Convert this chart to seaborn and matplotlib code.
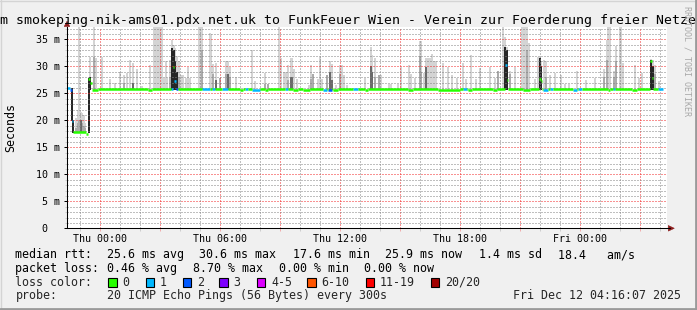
import numpy as np
import pandas as pd
import matplotlib
matplotlib.use("Agg")
import matplotlib.pyplot as plt
from matplotlib.patches import Rectangle, Polygon
from matplotlib.lines import Line2D
import seaborn as sns

# ---------------- data ----------------
title = "m smokeping-nik-ams01.pdx.net.uk to FunkFeuer Wien - Verein zur Foerderung freier Netze"
y_label = "Seconds"
x_label_hours = [0, 6, 12, 18, 24]
x_label_texts = ["Thu 00:00", "Thu 06:00", "Thu 12:00", "Thu 18:00", "Fri 00:00"]
y_ticks = [0, 5, 10, 15, 20, 25, 30, 35]
y_tick_labels = ["0  ", "5 m", "10 m", "15 m", "20 m", "25 m", "30 m", "35 m"]
x_start, x_end = -1.65, 28.35      # hours relative to Thu 00:00
y_max = 37.3                       # ms
step_hours = 1 / 12                # 5 minute steps

# median rtt: baseline plus read-off deviations (start h, end h, ms, lost pings)
median_base = 25.85
data_start, data_end = -1.65, 28.15
med_start = [-1.65, -1.50, -1.40, -1.33, -0.70, -0.58, -0.50, -0.42, 2.40, 3.55, 3.65, 3.70, 3.78,
             5.10, 5.60, 6.10, 7.00, 7.25, 7.60, 8.25, 9.25, 9.65, 10.15, 11.15, 11.40, 11.65, 12.65,
             13.25, 15.40, 16.90, 18.15, 18.40, 19.65, 20.25, 20.33, 21.15, 21.95, 22.03, 22.15, 22.50,
             23.65, 23.90, 25.40, 25.65, 26.60, 27.50, 27.58, 27.90]
med_end = [-1.50, -1.40, -1.33, -0.70, -0.58, -0.50, -0.42, -0.10, 2.60, 3.65, 3.70, 3.78, 3.88,
           5.50, 5.75, 6.40, 7.15, 7.40, 8.00, 8.40, 9.40, 9.90, 10.50, 11.35, 11.60, 11.90, 12.90,
           13.40, 15.65, 18.00, 18.35, 18.60, 19.85, 20.33, 20.40, 21.50, 22.03, 22.10, 22.40, 22.65,
           23.85, 24.10, 25.50, 25.75, 26.85, 27.58, 27.67, 28.15]
med_value = [25.9, 25.7, 19.8, 17.8, 17.5, 27.6, 27.0, 25.6, 25.6, 25.85, 29.9, 27.3, 25.85,
             25.85, 25.85, 25.85, 25.6, 25.85, 25.6, 25.6, 25.85, 25.6, 25.6, 25.6, 25.6, 25.6, 25.85,
             25.6, 25.6, 25.7, 25.85, 25.6, 25.6, 30.2, 27.5, 25.6, 27.7, 27.2, 25.6, 25.85,
             25.6, 25.85, 25.6, 25.85, 25.6, 30.9, 27.8, 25.85]
med_loss = [1, 2, 1, 0, 0, 0, 0, 0, 0, 1, 0, 1, 2,
            1, 1, 1, 0, 1, 1, 0, 1, 0, 0, 1, 2, 0, 1,
            0, 0, 0, 1, 0, 0, 1, 0, 0, 0, 0, 1, 1,
            1, 1, 0, 1, 0, 0, 0, 1]

# smoke during the low-latency period (own bottom values)
low_hour = [-1.40, -1.35, -1.18, -1.10, -1.03, -0.95, -0.88, -0.80, -0.73, -0.56, -0.48]
low_bottom = [19.8, 17.6, 17.6, 17.6, 17.6, 17.6, 17.6, 17.6, 17.6, 17.6, 25.6]
low_top = [26.0, 20.0, 20.5, 21.9, 37.3, 21.5, 21.3, 21.0, 19.5, 27.8, 31.8]
low_core = [26.0, 20.0, 18.5, 19.5, 20.0, 20.0, 19.5, 19.0, 18.5, 27.8, 28.0]
low_shade = [3, 3, 1, 1, 1, 2, 1, 1, 1, 3, 3]

# smoke spikes above the usual floor (shade: 0 none, 1 mid, 2 dark, 3 near black)
smoke_floor = 25.6
N = np.nan
smoke_hour = [-0.28, -0.20, 0.08, 0.50, 0.75, 1.00, 1.18, 1.33, 1.50, 1.65, 1.83, 2.08, 2.50,
              2.68, 2.76, 2.84, 2.93, 3.01, 3.09, 3.20, 3.28, 3.35, 3.50, 3.60, 3.68, 3.77, 3.85,
              3.95, 4.05, 4.15, 4.30, 4.40, 4.50, 4.95, 5.03, 5.12, 5.48, 5.56, 5.65, 5.80, 5.98,
              6.30, 6.40, 6.50, 6.80, 7.60, 7.75, 8.25, 8.40, 8.93, 9.05, 9.20, 9.30, 9.40, 9.53,
              9.61, 9.70, 9.83, 10.45, 10.55, 10.64, 10.90, 11.00, 11.09, 11.35, 11.50, 11.59, 11.80,
              12.00, 12.10, 12.20, 12.35, 13.25, 13.53, 13.61, 13.73, 13.95, 14.05, 14.45, 14.55,
              14.88, 15.05, 15.45, 15.55, 15.75, 15.98, 16.06, 16.18, 16.30, 16.40, 16.50, 16.60,
              16.70, 16.80, 17.15, 17.40, 17.60, 17.85, 18.15, 18.30, 18.55, 18.80, 19.00, 19.50,
              19.75, 19.90, 20.15, 20.27, 20.35, 20.50, 20.75, 21.08, 21.17, 21.25, 21.33, 21.43,
              21.75, 21.90, 21.98, 22.07, 22.18, 22.30, 22.50, 22.75, 23.05, 23.25, 23.45, 23.83,
              24.30, 24.75, 25.18, 25.33, 25.42, 25.50, 25.68, 25.80, 25.98, 26.06, 26.15, 26.75,
              26.93, 27.08, 27.54, 27.63, 27.75, 27.95]
smoke_top = [37.3, 31.5, 31.8, 27.6, 27.0, 29.0, 28.4, 28.7, 31.2, 30.6, 29.5, 26.4, 30.2,
             37.3, 37.3, 37.3, 37.3, 37.3, 37.3, 27.8, 30.9, 27.8, 31.2, 34.9, 34.0, 33.3, 32.0,
             30.9, 28.4, 28.4, 27.8, 29.9, 27.8, 37.3, 37.3, 37.3, 36.2, 36.0, 30.5, 30.6, 27.8,
             30.9, 30.9, 29.9, 28.0, 33.0, 27.3, 28.7, 26.8, 37.3, 31.5, 29.0, 29.0, 30.2, 31.5,
             31.5, 29.5, 27.6, 26.6, 30.2, 28.5, 27.6, 31.8, 27.6, 28.3, 30.9, 30.5, 26.6,
             30.2, 30.2, 28.3, 26.5, 27.8, 33.5, 32.1, 31.5, 28.3, 28.3, 26.8, 26.8,
             26.8, 29.9, 30.2, 28.5, 27.8, 34.6, 34.6, 28.7, 31.5, 31.5, 31.5, 32.3,
             30.9, 30.9, 30.6, 29.9, 28.3, 27.8, 30.6, 27.6, 32.1, 27.6, 29.6, 29.9,
             27.8, 29.2, 37.3, 35.5, 33.6, 29.2, 29.9, 37.3, 37.3, 37.3, 37.3, 34.3,
             27.6, 31.8, 31.8, 31.0, 31.2, 30.9, 28.3, 28.7, 28.3, 26.8, 26.8, 29.2,
             27.5, 27.8, 29.5, 34.9, 37.3, 37.3, 29.2, 33.7, 37.3, 37.3, 30.6, 30.2,
             27.8, 28.7, 31.4, 31.2, 30.2, 27.3]
smoke_core = [31.8, N, N, N, N, N, 27.0, N, N, 27.0, N, N, N,
              N, N, N, N, N, N, N, N, N, 28.0, 33.3, 33.0, 31.0, 29.0,
              28.0, N, N, N, N, N, N, N, 33.0, N, N, 28.5, 27.5, 27.8,
              28.5, 28.5, 28.0, N, N, N, 26.8, 26.8, N, N, N, N, 27.5, 28.0,
              28.0, N, N, N, 27.6, 28.5, N, N, N, 28.3, 29.0, 27.5, N,
              28.5, N, N, N, N, 30.0, 29.0, 28.0, 28.3, N, N, N,
              N, N, N, N, N, 32.0, 29.0, N, 29.9, N, N, N,
              N, N, N, N, N, N, N, N, N, N, N, N,
              N, 29.2, N, 33.6, 33.0, 28.5, N, N, N, N, 33.0, N,
              N, N, 31.5, 30.0, N, 28.0, N, N, N, N, N, N,
              N, N, 28.0, 31.2, N, N, 28.0, 31.0, N, N, N, N,
              N, N, 31.2, 30.0, 28.5, N]
smoke_shade = [1, 0, 0, 0, 0, 0, 1, 0, 0, 2, 0, 0, 0,
               0, 0, 0, 0, 0, 0, 0, 0, 0, 1, 3, 3, 3, 3,
               1, 0, 0, 0, 0, 0, 0, 0, 1, 0, 0, 1, 2, 1,
               1, 2, 1, 0, 0, 0, 1, 1, 0, 0, 0, 0, 1, 2,
               2, 0, 0, 0, 1, 1, 0, 0, 0, 1, 2, 2, 0,
               1, 0, 0, 0, 0, 2, 2, 1, 1, 0, 0, 0,
               0, 0, 0, 0, 0, 1, 1, 0, 2, 0, 0, 0,
               0, 0, 0, 0, 0, 0, 0, 0, 0, 0, 0, 0,
               0, 1, 0, 3, 3, 1, 0, 0, 0, 0, 1, 0,
               0, 0, 3, 3, 0, 1, 0, 0, 0, 0, 0, 0,
               0, 0, 1, 1, 0, 0, 1, 1, 0, 0, 0, 0,
               0, 0, 3, 3, 1, 0]

loss_labels = ["0", "1", "2", "3", "4-5", "6-10", "11-19", "20/20"]
loss_colors = ["#26ff00", "#00b8ff", "#0059ff", "#7e00ff", "#dd00ff", "#ff5500", "#ff0000", "#a10000"]

legend_rows = [
    [("median rtt:", 16), ("25.6 ms avg", 107.3), ("30.6 ms max", 200), ("17.6 ms min", 293.3),
     ("25.9 ms now", 386), ("1.4 ms sd", 479.3), ("18.4   am/s", 558.3)],
    [("packet loss:", 16), ("0.46 % avg", 107.3), ("8.70 % max", 193.3), ("0.00 % min", 279.3),
     ("0.00 % now", 365)],
]
probe_text = "20 ICMP Echo Pings (56 Bytes) every 300s"
stamp_text = "Fri Dec 12 04:16:07 2025"
watermark = "RRDTOOL / TOBI OETIKER"

# ---------------- styling ----------------
W, H = 697, 310
sns.set_style("white")
MONO = "DejaVu Sans Mono"
plt.rcParams["font.family"] = [MONO, "DejaVu Sans"]
BG = "#f0f0f0"
SMOKE = {0: "#d4d4d4", 1: "#ababab", 2: "#6a6a6a", 3: "#262626"}
MINOR = (0.5, 0.5, 0.5, 0.3)
MAJOR = (0.95, 0.15, 0.15, 0.33)
ARROW = "#8c1c1c"

fig = plt.figure(figsize=(W / 100, H / 100), dpi=100, facecolor=BG)

def fx(x):
    return x / W

def fy(y):
    return 1 - y / H

ax_left, ax_right, ax_bottom, ax_top = 67, 667, 228.3, 26.9
ax = fig.add_axes([fx(ax_left), fy(ax_bottom), (ax_right - ax_left) / W, (ax_bottom - ax_top) / H])
ax.set_facecolor("white")
ax.set_xlim(x_start, x_end)
ax.set_ylim(0, y_max)

# smoke
def draw_smoke(hours, bottom, top, core, shade):
    hours = np.asarray(hours, float)
    bottom = np.asarray(bottom, float)
    top = np.asarray(top, float)
    core = np.asarray(core, float)
    shade = np.asarray(shade)
    ax.bar(hours, top - bottom, bottom=bottom, width=step_hours * 1.25, color=SMOKE[0],
           linewidth=0, zorder=2, antialiased=False)
    for s in (1, 2, 3):
        m = (shade == s) & ~np.isnan(core)
        if m.any():
            ax.bar(hours[m], core[m] - bottom[m], bottom=bottom[m], width=step_hours * 1.25,
                   color=SMOKE[s], linewidth=0, zorder=2.1, antialiased=False)

draw_smoke(low_hour, low_bottom, low_top, low_core, low_shade)
draw_smoke(smoke_hour, [smoke_floor] * len(smoke_hour), smoke_top, smoke_core, smoke_shade)

# median segments (baseline filled between read deviations)
segs = sorted(zip(med_start, med_end, med_value, med_loss))
full = []
cur = data_start
for s, e, v, l in segs:
    if s > cur + 1e-9:
        full.append((cur, s, median_base, 0))
    full.append((s, e, v, l))
    cur = max(cur, e)
if cur < data_end:
    full.append((cur, data_end, median_base, 0))
rows = []
for i, (s, e, v, l) in enumerate(full):
    rows.append({"hour": s, "ms": v, "loss": str(l), "seg": i})
    rows.append({"hour": e, "ms": v, "loss": str(l), "seg": i})
med_df = pd.DataFrame(rows)
sns.lineplot(data=med_df, x="hour", y="ms", hue="loss", units="seg", estimator=None,
             palette={str(i): loss_colors[i] for i in range(3)}, legend=False, sort=False,
             linewidth=1.8, ax=ax, zorder=4, solid_capstyle="butt")

# grid
ax.set_xticks(np.arange(0, 28, 3))
ax.set_xticks(np.arange(-1, 29, 1), minor=True)
ax.set_xticklabels([x_label_texts[x_label_hours.index(h)] if h in x_label_hours else ""
                    for h in np.arange(0, 28, 3)])
ax.set_yticks(y_ticks)
ax.set_yticklabels(y_tick_labels)
ax.set_yticks(np.arange(1, 38, 1), minor=True)
ax.grid(which="minor", color=MINOR, linestyle=(0, (1, 2)), linewidth=0.72)
ax.grid(which="major", color=MAJOR, linestyle=(0, (1, 2)), linewidth=0.72)
ax.set_axisbelow(False)
for ln in ax.get_xgridlines() + ax.get_ygridlines():
    ln.set_zorder(3)

ax.tick_params(axis="x", which="major", length=1.9, width=0.72, color=MAJOR, pad=2.3,
               labelsize=7.2, labelcolor="black", direction="out", bottom=True)
ax.tick_params(axis="x", which="minor", length=1.9, width=0.72, color=MINOR, direction="out",
               bottom=True)
ax.tick_params(axis="y", which="major", length=2.5, width=0.72, color="black", pad=2.2,
               labelsize=7.2, labelcolor="black", direction="out", left=True)
ax.tick_params(axis="y", which="minor", length=1.5, width=0.72, color=MINOR, direction="out",
               left=True)
for lab in ax.get_xticklabels() + ax.get_yticklabels():
    lab.set_fontfamily(MONO)

ax.set_xlabel("")
ax.set_ylabel("")
for side in ("top", "right"):
    ax.spines[side].set_visible(False)
for side in ("left", "bottom"):
    ax.spines[side].set_color("black")
    ax.spines[side].set_linewidth(0.75)
    ax.spines[side].set_zorder(5)

# axis arrows and axis extension
fig.add_artist(Line2D([fx(ax_right), fx(670)], [fy(ax_bottom), fy(ax_bottom)], color="black",
                      linewidth=0.75))
fig.add_artist(Polygon([(fx(668.3), fy(225.5)), (fx(674.3), fy(228.3)), (fx(668.3), fy(231.1))],
                       closed=True, facecolor=ARROW, edgecolor=ARROW, linewidth=0.4))
fig.add_artist(Polygon([(fx(64.2), fy(26.5)), (fx(67.0), fy(21.3)), (fx(69.8), fy(26.5))],
                       closed=True, facecolor=ARROW, edgecolor=ARROW, linewidth=0.4))

# texts
fig.text(fx(348.5), fy(23.6), title, fontsize=9.5, family=MONO, ha="center", va="baseline",
         color="black")
fig.text(fx(10.8), fy(127.5), y_label, fontsize=8.4, family=MONO, rotation=90, ha="center",
         va="center", color="black")
fig.text(fx(687), fy(6), watermark, fontsize=6.0, family=MONO, rotation=270, ha="center",
         va="top", color="#a8a8a8")

baselines = [258.3, 271.8, 285.6, 299.2]
for row, yb in zip(legend_rows, baselines[:2]):
    for txt, x in row:
        fig.text(fx(x - 0.6), fy(yb), txt, fontsize=8.4, family=MONO, ha="left",
                 va="baseline", color="black")

fig.text(fx(15.4), fy(baselines[2]), "loss color:", fontsize=8.4, family=MONO, ha="left",
         va="baseline")
box_x = [108.3, 145.7, 182.7, 219.3, 256.7, 307.3, 365.7, 431.0]
for bx, lab, col in zip(box_x, loss_labels, loss_colors):
    fig.add_artist(Rectangle((fx(bx), fy(286.7)), 8.3 / W, 8.3 / H, facecolor=col,
                             edgecolor="black", linewidth=0.8))
    fig.text(fx(bx + 14.4), fy(baselines[2]), lab, fontsize=8.4, family=MONO, ha="left",
             va="baseline")

fig.text(fx(15.4), fy(baselines[3]), "probe:", fontsize=8.4, family=MONO, ha="left",
         va="baseline")
fig.text(fx(106.7), fy(baselines[3]), probe_text, fontsize=8.4, family=MONO, ha="left",
         va="baseline")
fig.text(fx(680.6), fy(baselines[3]), stamp_text, fontsize=8.4, family=MONO, ha="right",
         va="baseline")

# 3D frame
fig.add_artist(Line2D([0, 1], [fy(0.7), fy(0.7)], color="#d4d4d4", linewidth=1.0))
fig.add_artist(Line2D([fx(0.7), fx(0.7)], [0, 1], color="#d4d4d4", linewidth=1.0))
fig.add_artist(Line2D([0, 1], [fy(308.6), fy(308.6)], color="#9a9a9a", linewidth=2.0))
fig.add_artist(Line2D([fx(695.6), fx(695.6)], [0, 1], color="#9a9a9a", linewidth=2.0))

fig.savefig("out.png", dpi=100, facecolor=BG)
